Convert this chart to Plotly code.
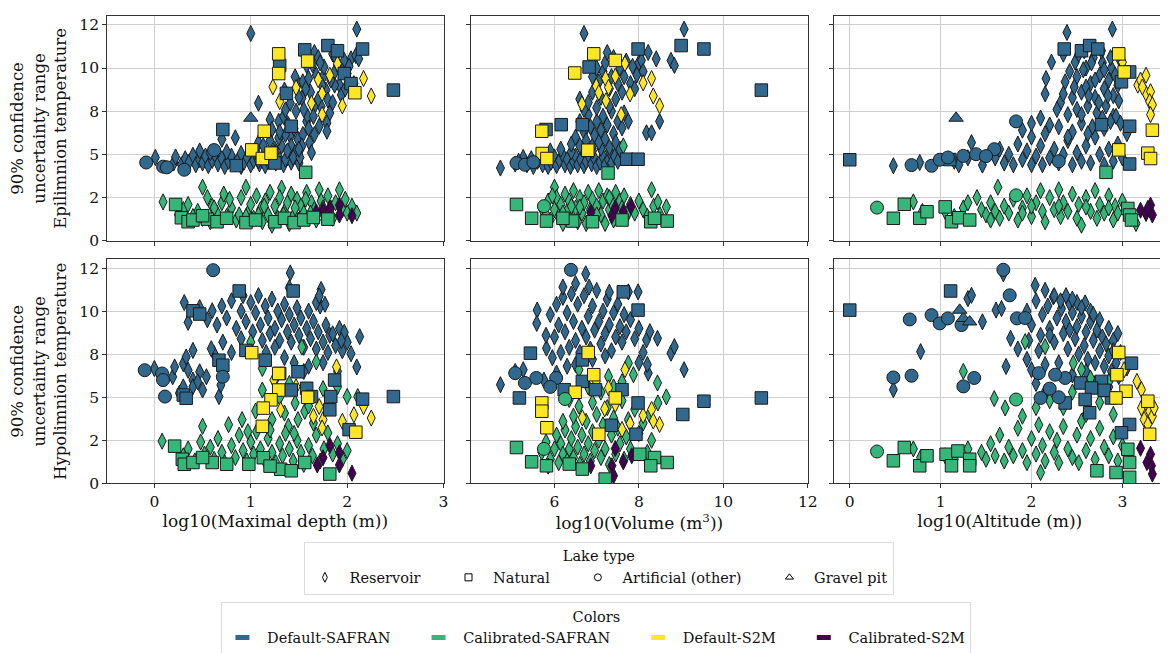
import plotly.graph_objects as go

# ---------------- categories / labels ----------------
config_keys = ["ds", "cs", "dm", "cm"]
config_names = ["Default-SAFRAN", "Calibrated-SAFRAN", "Default-S2M", "Calibrated-S2M"]
config_colors = ["#31688e", "#35b779", "#fde725", "#440154"]
type_keys = ["res", "nat", "art", "gra"]
type_names = ["Reservoir", "Natural", "Artificial (other)", "Gravel pit"]
type_symbols = ["diamond-tall", "square", "circle", "triangle-up"]
type_sizes = [11.5, 12.5, 13, 12.5]

x_titles = ["log10(Maximal depth (m))", "log10(Volume (m<sup>3</sup>))", "log10(Altitude (m))"]
y_titles = ["90% confidence<br>uncertainty range<br>Epilimnion temperature",
            "90% confidence<br>uncertainty range<br>Hypolimnion temperature"]
y_tick_vals = [0, 2.5, 5, 7.5, 10, 12.5]
y_tick_text = ["0", "2", "5", "8", "10", "12"]
x_tick_vals = [[0, 1, 2, 3], [6, 8, 10, 12], [0, 1, 2, 3]]
x_tick_text = [["0", "1", "2", "3"], ["6", "8", "10", "12"], ["0", "1", "2", "3"]]

# ---------------- data: (x, uncertainty range) ----------------
# Panel 1: epilimnion vs log10(max depth)
epi_depth_ds_res = [(0.01,4.82),(0.2,4.5),(0.22,4.85),(0.28,4.4),(0.32,4.75),(0.36,4.55),(0.4,4.95),(0.43,4.4),(0.47,4.7),(0.5,4.5),
    (0.53,4.9),(0.56,4.35),(0.6,4.65),(0.63,4.95),(0.66,4.45),(0.7,4.75),(0.73,4.3),(0.77,4.6),(0.8,4.9),(0.84,4.45),
    (0.87,4.7),(0.9,4.3),(0.93,4.55),(0.96,4.85),(1.0,4.4),(1.03,4.65),(1.06,4.9),(1.09,4.45),(1.12,4.7),(1.15,4.35),
    (1.18,4.6),(1.22,4.85),(1.26,4.5),(1.3,4.7),(1.34,4.4),(1.38,4.8),(1.42,4.55),(1.47,4.9),(1.5,4.5),
    (0.47,5.2),(0.58,5.1),(0.75,5.15),(0.9,5.05),(1.05,5.2),(1.25,5.3),(0.7,5.87),(0.84,5.96),
    (1.08,7.96),(1.2,7.01),(1.08,5.68),(1.22,6.44),(1.29,6.91),(1.34,7.2),(1.36,7.58),(1.39,6.72),(1.41,6.06),(1.42,5.49),
    (1.32,5.49),(1.25,5.1),(1.46,5.1),(1.49,5.87),(1.54,6.15),(1.58,6.91),(1.59,7.2),(1.53,5.49),(1.61,5.68),(1.63,5.1),
    (1.49,9.1),(1.53,8.25),(1.54,9.2),(1.58,10.15),(1.66,10.9),(1.7,10.6),(1.75,9.49),(1.76,10.06),(1.78,8.72),(1.8,8.15),
    (1.82,7.39),(1.79,6.82),(1.79,6.34),(1.85,10.82),(1.87,9.77),(1.92,9.01),(1.94,8.44),(1.97,10.44),(2.0,9.68),(2.04,10.53),
    (2.09,10.72),(2.12,10.53),(2.1,12.25),(1.0,12.0),(1.46,9.49),(1.41,7.96),(1.36,6.15),(1.29,5.96),(1.15,5.1),(1.08,4.63),
    (1.17,4.82),(1.36,4.72),(1.44,4.82),(1.51,4.82),(1.66,6.15),(1.71,6.63),(1.73,7.77),(1.66,7.77),(1.35,8.72),(1.87,9.01),
    (1.13,5.5),(1.3,6.3),(1.45,6.5),(1.55,7.6),(1.62,8.6),(1.68,9.6),(1.72,10.3),(1.9,10.2),(1.5,5.3),(1.2,5.8),
    (1.38,5.2),(1.6,6.5),(1.85,8.0),(1.95,9.8),
    (1.6,9.4),(1.64,10.2),(1.7,8.2),(1.74,9.0),(1.83,9.3),(1.88,10.6),(1.98,8.8),(2.02,10.1),(1.47,7.5),(1.5,8.3),
    (1.57,8.8),(1.65,7.2)]
epi_depth_ds_nat = [(0.71,6.44),(1.30,10.15),(1.37,8.53),(1.42,6.63),(1.56,11.05),(1.80,11.3),(1.90,11.0),(2.16,11.1),
    (2.48,8.72),(1.97,9.68),(2.04,9.1),(0.85,4.35),(1.25,4.5)]
epi_depth_ds_art = [(-0.085,4.53),(0.09,4.29),(0.13,4.25),(0.31,4.11),(0.62,5.25)]
epi_depth_ds_gra = [(1.0,7.1)]
epi_depth_cs_res = [(0.09,2.25),(0.5,3.1),(0.55,2.5),(0.6,2.0),(0.45,1.7),(0.4,1.4),(0.5,1.3),(0.65,1.6),(0.7,2.2),(0.75,1.4),
    (0.8,1.9),(0.85,1.2),(0.9,2.5),(0.95,3.1),(0.97,1.6),(1.0,2.1),(1.03,1.3),(1.06,2.6),(1.1,1.8),(1.12,1.1),
    (1.15,2.3),(1.18,1.5),(1.2,2.8),(1.22,0.9),(1.25,2.0),(1.28,1.3),(1.32,3.05),(1.3,2.5),(1.35,1.7),(1.38,2.2),
    (1.4,1.0),(1.42,2.7),(1.45,1.5),(1.48,2.4),(1.5,1.2),(1.52,2.0),(1.55,1.6),(1.58,2.8),(1.6,1.3),(1.63,2.2),
    (1.66,1.8),(1.68,1.2),(1.71,2.95),(1.73,2.3),(1.76,1.5),(1.8,2.6),(1.83,1.9),(1.85,1.3),(1.88,2.2),(1.92,2.95),
    (1.95,1.8),(2.0,1.6),(2.05,2.0),(2.1,1.6),(0.3,1.8),(0.35,2.1),(0.25,1.5),(0.58,1.1),(0.72,2.7),(0.88,1.5),
    (0.78,2.4),(0.62,1.9),(1.08,1.5),(1.14,2.0),(1.34,1.5),(1.57,2.4),(1.75,1.9),(1.98,2.4),(0.95,1.4),(1.46,1.9),(1.62,1.6)]
epi_depth_cs_nat = [(1.57,3.96),(0.22,2.1),(0.28,1.33),(0.35,1.1),(0.4,1.2),(0.55,1.25),(0.65,1.1),(0.75,1.3),(0.95,1.05),
    (1.05,1.2),(1.25,1.1),(1.35,1.3),(1.45,1.05),(1.55,1.2),(1.65,1.35),(1.8,1.25),(0.5,1.45)]
epi_depth_cs_art = []
epi_depth_cs_gra = []
epi_depth_dm_res = [(1.23,8.91),(1.30,8.06),(1.47,8.86),(1.63,7.96),(1.70,9.33),(1.74,8.53),(1.74,7.30),(1.82,9.58),(1.90,10.25),
    (1.95,7.81),(2.07,9.1),(2.17,9.39),(2.25,8.38)]
epi_depth_dm_nat = [(1.29,10.82),(1.29,9.68),(1.59,10.4),(1.14,6.34),(1.01,5.26),(1.12,4.76),(1.21,5.07),(2.08,8.57)]
epi_depth_cm_res = [(1.68,1.68),(1.75,1.77),(1.82,1.87),(1.92,2.06),(1.92,1.49),(2.05,1.45)]

# Panel 2: epilimnion vs log10(volume)
epi_vol_ds_res = [(4.72,4.21),(5.07,4.44),(5.26,4.82),(5.15,4.6),(5.35,4.4),(5.45,4.75),(5.5,4.3),(5.6,4.6),(5.65,4.9),(5.72,4.4),
    (5.8,4.7),(5.85,4.3),(5.92,4.55),(6.0,4.85),(6.05,4.35),(6.12,4.65),(6.2,4.95),(6.25,4.4),(6.3,4.7),(6.38,4.3),
    (6.45,4.6),(6.5,4.9),(6.55,4.4),(6.62,4.7),(6.7,4.35),(6.75,4.6),(6.82,4.9),(6.88,4.45),(6.95,4.75),(7.0,4.3),
    (7.08,4.55),(7.15,4.85),(7.2,4.4),(7.28,4.7),(7.35,4.5),(7.42,4.9),(7.5,4.6),(5.9,5.2),(6.15,5.3),(6.4,5.15),
    (6.65,5.3),(6.9,5.2),(7.1,5.35),(7.3,5.2),
    (6.4,5.6),(6.5,6.0),(6.6,5.5),(6.7,6.3),(6.75,5.8),(6.85,6.6),(6.9,5.5),(6.95,6.1),(7.0,6.9),(7.05,5.7),
    (7.1,6.4),(7.15,7.2),(7.2,5.9),(7.25,6.7),(7.3,5.4),(7.35,7.5),(7.4,6.2),(7.45,5.7),(7.5,6.9),(7.55,5.3),
    (7.6,6.53),(7.75,6.91),(7.65,7.4),(7.3,7.8),(6.6,6.9),(6.8,7.3),
    (6.8,8.0),(6.9,8.6),(7.0,7.7),(7.05,9.2),(7.1,8.3),(7.15,9.8),(7.2,10.3),(7.3,8.8),(7.35,9.5),(7.4,10.6),
    (7.45,8.2),(7.5,9.1),(7.55,10.0),(7.6,8.6),(7.65,9.5),(7.7,10.4),(7.8,9.1),(7.85,10.1),(7.9,8.8),(7.95,9.6),
    (8.0,10.3),(6.7,12.0),(9.07,12.25),(8.76,10.44),(8.84,10.15),(8.41,10.53),(8.22,10.9),(8.06,10.44),(8.49,6.91),(8.18,6.25),
    (8.3,6.25),(7.0,10.0),(6.9,9.5),(6.6,8.2),(6.7,7.6),(8.1,9.8),(7.25,10.9)]
epi_vol_ds_nat = [(7.98,11.1),(9.0,11.3),(9.54,11.1),(10.9,8.72),(6.16,6.72),(6.66,6.72),(5.8,6.44),(7.71,4.72),(7.98,4.72),(6.82,10.06)]
epi_vol_ds_art = [(5.1,4.5),(5.3,4.4),(5.5,4.55)]
epi_vol_ds_gra = []
epi_vol_cs_res = [(5.7,1.9),(5.8,1.5),(5.85,2.3),(5.9,1.2),(6.0,3.1),(6.0,1.8),(6.05,2.5),(6.1,1.4),(6.15,2.1),(6.2,1.0),
    (6.25,2.7),(6.3,1.7),(6.35,2.3),(6.4,1.3),(6.45,2.9),(6.5,1.9),(6.55,1.1),(6.6,2.5),(6.65,1.6),(6.7,2.2),
    (6.75,1.0),(6.8,2.8),(6.85,1.8),(6.9,2.4),(6.95,1.3),(7.0,2.0),(7.05,2.9),(7.1,1.5),(7.15,2.3),(7.2,1.0),
    (7.25,2.6),(7.3,1.8),(7.35,2.2),(7.4,1.2),(7.45,2.8),(7.5,1.6),(7.55,2.3),(7.6,1.9),(7.65,2.6),(7.7,1.4),
    (7.8,2.1),(7.9,1.6),(8.0,2.3),(8.1,1.8),(8.2,1.4),(8.3,2.95),(8.35,2.0),(8.45,2.25),(8.65,1.96),(8.5,1.5),
    (7.63,5.49),(6.2,1.6),(6.6,1.95),(7.0,1.5),(7.3,2.5),(6.4,2.0),(5.95,2.6),(7.75,1.7)]
epi_vol_cs_nat = [(5.1,2.1),(5.46,1.3),(5.81,1.14),(6.43,1.14),(8.28,1.1),(8.67,1.14),(8.37,1.3),(6.9,1.1),(7.27,3.92),(6.2,1.3),(7.6,1.2)]
epi_vol_cs_art = [(5.75,2.0)]
epi_vol_cs_gra = []
epi_vol_dm_res = [(7.67,10.25),(7.21,9.39),(7.44,9.52),(6.99,8.95),(7.28,8.88),(7.05,8.57),(7.22,8.1),(6.65,7.92),(7.79,8.5),
    (8.1,9.14),(8.3,9.39),(8.34,8.38),(8.49,7.81),(7.58,7.3)]
epi_vol_dm_nat = [(6.93,10.82),(6.48,9.71),(7.44,10.44),(5.7,6.34),(5.71,5.05),(5.82,4.76),(6.79,5.24)]
epi_vol_cm_res = [(6.86,1.64),(7.36,1.45),(7.44,1.9),(7.63,1.68),(7.81,1.98)]

# Panel 3: epilimnion vs log10(altitude)
epi_alt_ds_res = [(0.48,4.34),(0.77,4.53),(1.34,5.68),(1.46,4.38),(1.15,4.6),(1.2,4.4),(1.3,4.8),
    (1.6,4.8),(1.65,5.3),(1.7,4.5),(1.75,5.0),(1.8,4.4),(1.85,5.6),(1.9,4.7),(1.95,5.2),(2.0,4.4),(2.0,6.0),
    (2.05,4.9),(2.1,5.5),(2.12,4.4),(2.15,6.2),(2.2,4.8),(2.25,5.3),(2.3,4.5),(2.3,6.6),(2.35,5.0),(2.4,5.8),
    (2.45,4.4),(2.45,6.3),(2.5,5.1),(2.55,4.6),(2.55,6.8),(2.6,5.5),(2.65,4.5),(2.7,6.0),(2.75,5.0),(2.8,4.4),
    (2.8,6.5),(2.85,5.3),(2.9,4.6),(2.9,7.2),(2.95,5.6),(3.0,4.8),(3.05,6.2),(2.0,6.8),(2.1,7.1),(2.2,6.7),
    (1.9,6.4),(2.4,7.3),
    (2.39,12.06),(2.89,12.25),(2.22,10.34),(2.16,9.39),(2.15,8.5),(2.37,9.2),(2.32,8.0),(2.48,10.34),(2.5,9.5),(2.55,8.6),
    (2.6,10.0),(2.62,7.8),(2.65,9.1),(2.68,10.6),(2.7,8.3),(2.72,7.4),(2.75,9.6),(2.78,10.3),(2.8,8.8),(2.82,7.8),
    (2.85,9.3),(2.88,10.0),(2.9,8.4),(2.93,7.2),(2.95,9.0),(2.6,8.9),(2.5,7.6),(2.58,11.0),(2.45,8.3),
    (2.35,10.8),(2.42,9.8),(2.47,8.9),(2.52,10.8),(2.57,9.9),(2.63,8.4),(2.66,10.3),(2.7,9.3),(2.74,8.0),(2.77,11.0),
    (2.8,9.9),(2.84,8.4),(2.87,10.6),(2.92,9.6),(2.96,8.1),(2.98,10.4),(2.55,7.3),(2.67,6.6),(2.78,7.1),(2.87,6.9),
    (2.98,6.8),(2.4,6.0),(2.62,6.2),(2.35,8.5),(2.28,7.6)]
epi_alt_ds_nat = [(0.0,4.69),(2.36,11.1),(2.55,11.0),(2.64,11.3),(2.73,11.1),(3.08,9.77),(2.99,9.2),(2.77,6.72),(3.08,6.63),(3.08,4.44),(1.1,4.7)]
epi_alt_ds_art = [(0.68,4.38),(0.9,4.34),(0.99,4.69),(1.08,4.82),(1.25,4.91),(1.39,5.01),(1.59,5.3),(1.83,6.91),(1.5,4.9),(2.3,4.6)]
epi_alt_ds_gra = [(1.17,7.1)]
epi_alt_cs_res = [(0.7,2.25),(0.8,1.7),(1.05,1.7),(1.15,1.4),(1.25,1.9),(1.3,2.2),(1.45,1.8),(1.5,1.5),(1.55,2.2),(1.6,1.7),
    (1.63,3.1),(1.65,1.3),(1.7,2.0),(1.75,1.6),(1.8,2.4),(1.85,1.2),(1.9,1.9),(1.95,2.6),(2.0,1.4),(2.05,2.2),
    (2.1,2.9),(2.12,1.7),(2.15,1.1),(2.2,2.5),(2.25,1.8),(2.3,2.95),(2.32,1.4),(2.35,2.2),(2.4,1.7),(2.45,2.7),
    (2.5,1.3),(2.52,2.1),(2.55,0.9),(2.6,2.5),(2.65,1.7),(2.7,2.9),(2.72,1.3),(2.75,2.1),(2.8,1.6),(2.85,2.6),
    (2.9,1.2),(2.92,2.0),(2.95,1.6),(3.0,2.3),(3.15,1.0),(1.4,2.5),(1.9,1.6),(2.3,2.0),(2.6,1.95),(2.85,1.9),
    (2.0,2.0),(1.55,1.2)]
epi_alt_cs_nat = [(0.48,1.3),(0.6,2.11),(0.77,1.3),(0.85,1.68),(1.05,1.96),(1.12,1.1),(1.2,1.33),(1.32,1.2),(2.82,3.96),
    (3.06,1.87),(3.08,1.49),(3.1,1.2)]
epi_alt_cs_art = [(0.3,1.92),(1.83,2.63)]
epi_alt_cs_gra = []
epi_alt_dm_res = [(3.0,10.34),(3.17,9.01),(3.2,9.3),(3.26,9.58),(3.26,8.53),(3.31,8.63),(3.3,8.06),(3.33,7.87),(3.31,7.3),(3.22,8.9)]
epi_alt_dm_nat = [(2.96,10.82),(3.02,9.77),(3.33,6.4),(2.96,5.26),(3.28,5.07),(3.31,4.76)]
epi_alt_cm_res = [(3.2,1.77),(3.26,1.58),(3.31,2.06),(3.33,1.49),(3.28,1.87)]

# Panel 4: hypolimnion vs log10(max depth)
hyp_depth_ds_res = [(0.0,6.67),(0.19,6.19),(0.21,6.76),(0.3,6.95),(0.33,7.34),(0.4,7.72),(0.35,6.57),(0.4,6.0),(0.47,6.48),(0.54,6.19),
    (0.5,5.42),(0.4,5.61),(0.26,5.23),(0.67,5.04),(0.69,5.71),(0.62,7.53),(0.59,7.82),(0.71,8.2),(0.3,5.6),(0.45,5.9),
    (0.31,10.5),(0.35,9.35),(0.47,10.21),(0.6,10.02),(0.55,9.5),(0.65,9.2),(0.7,10.3),(0.75,9.6),(0.8,10.6),(0.85,9.0),
    (0.9,10.0),(0.92,10.9),(0.95,9.4),(1.0,10.5),(1.02,8.8),(1.05,9.9),(1.08,10.9),(1.1,9.2),(1.12,8.3),(1.15,10.3),
    (1.18,9.6),(1.2,8.7),(1.22,10.7),(1.25,9.0),(1.28,10.0),(1.3,8.3),(1.32,9.5),(1.35,10.4),(1.38,8.8),(1.4,9.8),
    (1.42,8.2),(1.45,9.2),(1.48,10.2),(1.5,8.6),(1.52,9.6),(1.55,7.9),(1.58,9.0),(1.6,10.0),(1.62,8.4),(1.65,9.4),
    (1.68,7.8),(1.7,8.8),(1.72,10.3),(1.75,8.2),(1.78,9.2),(1.8,7.6),(1.82,8.6),(1.88,8.0),(1.92,9.0),(1.95,7.7),
    (2.0,8.2),(2.13,8.52),(2.1,6.76),(2.04,7.53),(1.97,8.77),(1.94,8.29),(1.85,8.68),(1.68,10.5),(1.73,11.26),(1.71,10.88),
    (1.77,10.4),(1.41,12.22),(1.4,11.36),(1.16,7.6),(1.25,7.9),(1.35,7.3),(1.45,7.0),(1.6,6.8),(1.75,7.0),(1.9,6.5),
    (1.55,6.5),(0.9,8.4),(0.8,7.6)]
hyp_depth_ds_nat = [(1.44,11.17),(0.4,10.02),(0.47,9.83),(0.3,5.13),(0.33,4.94),(0.67,7.15),(0.71,6.86),(0.95,7.72),(0.88,11.17),
    (1.15,7.15),(1.49,6.48),(1.3,6.38),(1.58,5.52),(1.63,5.04),(1.83,5.04),(1.87,6.0),(1.82,4.27),(2.02,3.12),(2.16,4.89),
    (2.48,5.04),(1.42,5.42)]
hyp_depth_ds_art = [(0.61,12.38),(-0.1,6.57),(0.08,6.38),(0.09,6.0),(0.11,5.04),(0.71,6.19)]
hyp_depth_ds_gra = []
hyp_depth_cs_res = [(0.08,2.45),(0.5,3.31),(0.77,3.41),(0.91,3.7),(1.12,5.42),(1.12,6.67),(1.0,8.2),(1.53,7.91),(1.68,7.05),(1.9,5.61),
    (2.0,5.04),(2.11,5.04),(1.46,4.66),(1.35,4.08),(1.22,3.7),(1.49,3.7),(1.39,3.31),(1.56,4.18),(1.8,2.93),
    (0.3,1.6),(0.35,2.0),(0.42,1.3),(0.48,2.4),(0.52,1.7),(0.58,2.1),(0.62,1.4),(0.66,2.6),(0.7,1.8),(0.73,1.2),
    (0.8,2.2),(0.84,1.5),(0.88,2.8),(0.92,1.9),(0.96,1.3),(1.0,2.4),(1.03,1.7),(1.06,3.0),(1.1,2.0),(1.14,1.4),
    (1.18,2.6),(1.22,1.8),(1.26,1.2),(1.3,2.3),(1.33,1.6),(1.36,2.9),(1.4,2.0),(1.44,1.3),(1.48,2.5),(1.52,1.8),
    (1.55,1.1),(1.6,2.2),(1.64,1.6),(1.68,2.8),(1.72,1.3),(1.76,2.0),(1.85,1.7),(1.9,2.3),(1.95,1.4),(2.0,1.9),
    (1.2,3.1),(1.05,4.2),(1.3,5.0),(1.4,5.8),(1.6,4.5),(1.75,5.5),(1.25,6.0),(1.65,3.5),(0.97,3.0),(1.45,2.9)]
hyp_depth_cs_nat = [(0.21,2.16),(0.29,1.4),(0.31,1.11),(0.4,1.21),(0.6,1.21),(0.75,1.11),(0.98,1.11),(1.13,1.49),(1.31,0.82),
    (1.42,0.73),(1.56,1.21),(1.82,0.54),(0.5,1.5),(1.2,1.0)]
hyp_depth_cs_art = []
hyp_depth_cs_gra = []
hyp_depth_dm_res = [(1.24,6.0),(1.47,5.61),(1.31,4.27),(1.71,4.46),(1.81,4.66),(1.89,6.76),(1.65,3.89),(1.75,3.7),(1.74,3.22),
    (1.95,3.6),(2.07,3.98),(2.17,4.46),(2.25,3.79)]
hyp_depth_dm_nat = [(1.01,7.59),(1.29,6.38),(1.29,5.42),(1.21,4.85),(1.13,4.37),(1.12,3.31),(1.59,5.0),(2.09,2.97)]
hyp_depth_cm_res = [(1.82,2.2),(1.75,1.49),(1.69,1.07),(1.92,1.78),(1.92,1.07),(2.05,0.59)]

# Panel 5: hypolimnion vs log10(volume)
hyp_vol_ds_res = [(6.74,12.17),(4.72,5.73),(5.07,6.5),(5.26,6.6),(5.59,10.06),(5.58,9.29),(5.81,7.85),(8.18,8.33),(8.26,8.81),(8.44,8.42),
    (8.76,7.56),(8.84,7.94),(9.07,6.6),(8.22,6.4),(7.75,11.12),(7.98,11.12),(6.82,11.4),
    (5.9,9.8),(6.0,8.5),(6.05,10.4),(6.1,9.2),(6.15,7.6),(6.2,10.8),(6.25,8.8),(6.3,9.9),(6.35,7.9),(6.4,11.0),
    (6.45,9.4),(6.5,8.3),(6.55,10.4),(6.6,7.6),(6.65,9.0),(6.7,10.9),(6.75,8.5),(6.8,9.7),(6.85,7.8),(6.9,10.3),
    (6.95,8.9),(7.0,11.2),(7.05,9.4),(7.1,8.1),(7.15,10.0),(7.2,8.7),(7.25,10.7),(7.3,9.2),(7.35,7.7),(7.4,9.9),
    (7.45,8.5),(7.5,10.4),(7.55,9.1),(7.6,8.2),(7.65,9.8),(7.7,8.8),(7.8,9.5),(7.9,8.4),(8.0,9.0),(8.1,7.6),
    (5.8,8.6),(5.95,7.3),(6.3,6.8),(6.05,6.4),(5.75,6.0),(6.5,6.9),(6.9,7.2),(7.2,7.4),(8.0,7.0),(8.2,6.9),
    (6.2,11.4),(6.5,11.6),(7.3,11.1)]
hyp_vol_ds_nat = [(7.63,11.12),(7.98,10.06),(5.43,7.56),(5.17,4.96),(6.66,5.92),(6.97,5.44),(7.6,5.44),(7.98,4.67),(7.35,3.37),
    (7.93,2.85),(9.04,4.0),(9.54,4.77),(10.9,4.96),(6.23,5.44),(6.66,7.17)]
hyp_vol_ds_art = [(6.39,12.4),(5.07,6.4),(5.3,5.83),(5.57,6.12),(6.04,6.12),(5.9,5.6)]
hyp_vol_ds_gra = []
hyp_vol_cs_res = [(7.87,6.31),(8.44,5.83),(8.65,5.02),(8.45,4.67),(7.75,6.98),(6.58,6.6),(7.28,6.21),(6.35,4.87),(6.58,4.48),
    (5.7,1.8),(5.8,2.4),(5.9,1.4),(6.0,2.0),(6.05,2.8),(6.1,1.2),(6.15,2.3),(6.2,1.7),(6.25,3.1),(6.3,1.3),
    (6.35,2.0),(6.4,2.6),(6.45,1.5),(6.5,3.3),(6.55,2.1),(6.6,1.1),(6.65,2.8),(6.7,1.7),(6.75,3.6),(6.8,2.3),
    (6.85,1.3),(6.9,3.0),(6.95,1.9),(7.0,4.0),(7.05,2.5),(7.1,1.5),(7.15,3.4),(7.2,2.0),(7.25,4.4),(7.3,1.1),
    (7.35,2.8),(7.4,3.8),(7.45,1.7),(7.5,3.2),(7.55,2.3),(7.6,4.8),(7.65,1.4),(7.7,2.7),(7.75,3.7),(7.8,2.0),
    (7.9,4.3),(8.0,2.9),(8.1,3.5),(8.2,1.8),(8.3,2.5),(6.9,4.7),(7.1,5.3),(7.4,5.6),(6.8,5.6),(7.6,5.9),
    (8.25,4.0),(6.2,3.6),(6.45,3.9),(5.85,1.0)]
hyp_vol_cs_nat = [(5.1,2.08),(5.46,1.25),(5.81,1.02),(6.35,1.12),(6.66,0.83),(7.2,0.25),(8.02,1.69),(8.37,1.5),(8.28,1.02),(8.67,1.21)]
hyp_vol_cs_art = [(5.75,2.0),(6.25,4.9)]
hyp_vol_cs_gra = []
hyp_vol_dm_res = [(7.67,6.6),(6.99,5.92),(7.28,5.54),(7.44,4.58),(7.19,4.33),(6.66,3.81),(7.79,3.48),(7.6,3.13),(8.1,3.94),
    (8.3,4.29),(8.49,3.42),(8.34,3.62)]
hyp_vol_dm_nat = [(6.8,7.6),(5.7,4.67),(5.7,4.19),(5.82,3.23),(6.49,5.29),(6.93,6.31),(7.05,2.85),(7.44,4.96)]
hyp_vol_cm_res = [(6.86,1.02),(7.36,1.02),(7.4,0.44),(7.44,2.02),(7.63,1.25),(7.83,1.6)]

# Panel 6: hypolimnion vs log10(altitude)
hyp_alt_ds_res = [(0.48,5.44),(0.78,7.65),(1.3,10.73),(1.34,10.92),(1.46,9.38),(1.61,10.06),(1.67,10.15),(1.69,12.17),(1.77,8.42),(1.72,6.79),
    (2.04,11.5),(2.15,11.21),(2.24,10.83),(2.33,10.15),(2.42,10.44),(2.59,10.48),
    (1.95,10.0),(2.0,9.2),(2.05,10.6),(2.1,8.6),(2.12,9.8),(2.18,10.3),(2.2,9.0),(2.25,8.2),(2.28,9.6),(2.32,10.6),
    (2.35,8.7),(2.38,9.4),(2.4,7.8),(2.45,9.9),(2.48,8.4),(2.5,9.1),(2.52,7.5),(2.55,9.7),(2.58,8.0),(2.6,8.8),
    (2.62,7.2),(2.65,9.4),(2.68,8.3),(2.7,7.0),(2.72,8.9),(2.75,7.7),(2.78,8.5),(2.8,6.8),(2.82,8.1),(2.85,7.4),
    (2.88,6.5),(2.9,8.3),(2.93,7.0),(2.96,6.2),(2.98,7.6),(3.05,6.7),(1.95,7.2),(2.0,6.6),(2.05,5.8),(2.15,6.9),
    (2.3,7.0),(2.45,6.3),(2.6,6.5),(2.7,5.8),(2.85,5.6),(1.85,7.8),(1.97,8.3),(2.08,7.7),(2.5,10.5),(2.15,5.3),
    (2.25,10.9),(2.38,10.9),(2.45,10.7),(2.55,10.2),(2.65,10.0),(2.75,9.5),(2.85,9.0),(2.95,8.7),(2.2,8.6),(2.42,8.9),
    (2.68,9.8),(2.9,7.7)]
hyp_alt_ds_nat = [(0.0,10.06),(1.11,11.17),(2.54,5.83),(2.77,5.92),(2.66,5.54),(2.64,4.1),(2.37,4.67),(2.59,4.87),(2.88,4.96),
    (3.1,6.98),(3.08,3.42),(2.99,2.94),(2.8,5.4)]
hyp_alt_ds_art = [(0.48,6.15),(0.68,6.25),(0.66,9.52),(0.9,9.77),(0.99,9.29),(1.08,9.58),(1.23,9.19),(1.25,5.63),(1.37,6.12),
    (1.69,12.4),(1.76,10.92),(1.84,9.58),(2.1,4.96),(2.37,6.12),(2.26,6.31),(2.08,6.4),(2.3,5.0),(1.93,9.6),(2.2,5.5)]
hyp_alt_ds_gra = [(1.25,9.58),(1.32,9.38),(1.21,10.06)]
hyp_alt_cs_res = [(1.25,6.5),(1.93,8.23),(2.15,7.94),(1.59,4.92),(1.71,4.38),(2.46,6.98),(2.1,0.63),
    (0.7,2.0),(0.78,1.5),(1.05,1.6),(1.15,1.4),(1.3,2.0),(1.45,1.8),(1.5,1.4),(1.55,2.3),(1.6,1.6),(1.65,2.8),
    (1.7,1.3),(1.75,2.1),(1.8,1.6),(1.85,3.2),(1.9,1.9),(1.95,1.2),(2.0,2.6),(2.05,1.7),(2.08,3.4),(2.12,2.2),
    (2.15,1.3),(2.2,3.0),(2.25,1.8),(2.28,2.5),(2.3,1.2),(2.35,3.3),(2.4,2.0),(2.45,1.5),(2.5,2.8),(2.52,1.2),
    (2.55,3.6),(2.6,1.9),(2.65,2.6),(2.7,1.4),(2.75,3.2),(2.8,2.1),(2.85,1.6),(2.9,2.7),(2.95,1.3),(3.0,2.2),
    (2.35,4.4),(2.6,4.0),(2.45,5.3),(2.65,6.1),(2.75,4.7),(2.9,4.0),(2.2,4.8),(2.55,6.6),(2.85,5.9),(1.9,3.9),
    (2.05,4.4),(3.1,1.4)]
hyp_alt_cs_nat = [(0.48,1.31),(0.6,2.08),(0.77,1.02),(0.85,1.6),(1.06,1.69),(1.12,1.02),(1.19,1.88),(1.32,1.4),(1.32,1.02),
    (2.72,0.73),(2.93,0.63),(3.06,1.98),(3.08,1.21),(3.08,0.35)]
hyp_alt_cs_art = [(0.3,1.85),(1.83,4.87)]
hyp_alt_cs_gra = []
hyp_alt_dm_res = [(3.02,6.6),(3.16,5.92),(3.21,5.44),(3.21,4.38),(3.26,4.67),(3.3,4.19),(3.33,3.9),(3.24,3.71),(3.28,3.42),(3.35,4.38)]
hyp_alt_dm_nat = [(2.96,7.6),(2.94,6.31),(3.04,5.35),(2.93,4.96),(3.28,4.77),(3.3,2.85)]
hyp_alt_cm_res = [(3.2,2.04),(3.27,1.21),(3.31,1.69),(3.33,0.54),(3.32,1.02)]

# ---------------- assemble (panel -> config -> lake type) ----------------
panels = [
    {"ds": [epi_depth_ds_res, epi_depth_ds_nat, epi_depth_ds_art, epi_depth_ds_gra],
     "cs": [epi_depth_cs_res, epi_depth_cs_nat, epi_depth_cs_art, epi_depth_cs_gra],
     "dm": [epi_depth_dm_res, epi_depth_dm_nat, [], []],
     "cm": [epi_depth_cm_res, [], [], []]},
    {"ds": [epi_vol_ds_res, epi_vol_ds_nat, epi_vol_ds_art, epi_vol_ds_gra],
     "cs": [epi_vol_cs_res, epi_vol_cs_nat, epi_vol_cs_art, epi_vol_cs_gra],
     "dm": [epi_vol_dm_res, epi_vol_dm_nat, [], []],
     "cm": [epi_vol_cm_res, [], [], []]},
    {"ds": [epi_alt_ds_res, epi_alt_ds_nat, epi_alt_ds_art, epi_alt_ds_gra],
     "cs": [epi_alt_cs_res, epi_alt_cs_nat, epi_alt_cs_art, epi_alt_cs_gra],
     "dm": [epi_alt_dm_res, epi_alt_dm_nat, [], []],
     "cm": [epi_alt_cm_res, [], [], []]},
    {"ds": [hyp_depth_ds_res, hyp_depth_ds_nat, hyp_depth_ds_art, hyp_depth_ds_gra],
     "cs": [hyp_depth_cs_res, hyp_depth_cs_nat, hyp_depth_cs_art, hyp_depth_cs_gra],
     "dm": [hyp_depth_dm_res, hyp_depth_dm_nat, [], []],
     "cm": [hyp_depth_cm_res, [], [], []]},
    {"ds": [hyp_vol_ds_res, hyp_vol_ds_nat, hyp_vol_ds_art, hyp_vol_ds_gra],
     "cs": [hyp_vol_cs_res, hyp_vol_cs_nat, hyp_vol_cs_art, hyp_vol_cs_gra],
     "dm": [hyp_vol_dm_res, hyp_vol_dm_nat, [], []],
     "cm": [hyp_vol_cm_res, [], [], []]},
    {"ds": [hyp_alt_ds_res, hyp_alt_ds_nat, hyp_alt_ds_art, hyp_alt_ds_gra],
     "cs": [hyp_alt_cs_res, hyp_alt_cs_nat, hyp_alt_cs_art, hyp_alt_cs_gra],
     "dm": [hyp_alt_dm_res, hyp_alt_dm_nat, [], []],
     "cm": [hyp_alt_cm_res, [], [], []]},
]

FONT = "DejaVu Serif"
TXT = "#111111"
W, H = 1168, 653
col_dom = [[100 / W, 439.3 / W], [467.3 / W, 806.7 / W], [832.7 / W, 1.0]]
row_dom = [[1 - 236 / H, 1 - 8.3 / H], [1 - 482 / H, 1 - 255 / H]]
x_ranges = [[-0.49, 3.0], [4.03, 12.0], [-0.178, 3.48]]
y_range = [0, 13.0]

fig = go.Figure()

for p, pdata in enumerate(panels):
    r, c = divmod(p, 3)
    ax = "" if p == 0 else str(p + 1)
    for t_i, t_key in enumerate(type_keys):
        for c_i, c_key in enumerate(config_keys):
            pts = pdata[c_key][t_i]
            if not pts:
                continue
            fig.add_trace(go.Scatter(
                x=[pt[0] for pt in pts], y=[pt[1] for pt in pts],
                mode="markers", xaxis="x" + ax, yaxis="y" + ax,
                showlegend=False, hoverinfo="skip",
                marker=dict(symbol=type_symbols[t_i], size=type_sizes[t_i],
                            color=config_colors[c_i],
                            line=dict(color="#1a1a1a", width=1)),
            ))

    common = dict(showline=True, linecolor="#333333", linewidth=1,
                  ticks="outside", ticklen=4, tickcolor="#333333",
                  showgrid=True, gridcolor="#cfcfcf", gridwidth=1, zeroline=False,
                  tickfont=dict(family=FONT, size=15.5, color=TXT))
    xa = dict(common, domain=col_dom[c], range=x_ranges[c], anchor="y" + ax,
              tickvals=x_tick_vals[c], ticktext=x_tick_text[c], mirror=True,
              showticklabels=(r == 1))
    if r == 1:
        xa["title"] = dict(text=x_titles[c], font=dict(family=FONT, size=17, color=TXT), standoff=4)
    ya = dict(common, domain=row_dom[r], range=y_range, anchor="x" + ax,
              tickvals=y_tick_vals, ticktext=y_tick_text, mirror=(c < 2),
              showticklabels=(c == 0))
    if c == 0:
        ya["title"] = dict(text=y_titles[r], font=dict(family=FONT, size=16.5, color=TXT), standoff=8)
    fig.layout["xaxis" + ax] = xa
    fig.layout["yaxis" + ax] = ya

# legend-only traces (names padded with no-break spaces to reproduce the wide legend spacing)
NB = "\u00a0"
for t_i, name in enumerate(type_names):
    tail = NB * 5 if t_i < len(type_names) - 1 else ""
    fig.add_trace(go.Scatter(
        x=[None], y=[None], mode="markers", name=NB + name + tail, legend="legend",
        marker=dict(symbol=type_symbols[t_i] + "-open", size=7, color="black",
                    line=dict(color="black", width=1))))
for c_i, name in enumerate(config_names):
    tail = NB * 5 if c_i < len(config_names) - 1 else ""
    fig.add_trace(go.Scatter(
        x=[None], y=[None], mode="markers", name=NB + name + tail, legend="legend2",
        marker=dict(symbol="line-ew", size=10, color=config_colors[c_i],
                    line=dict(color=config_colors[c_i], width=5))))

legend_common = dict(orientation="h", xanchor="center", yanchor="top",
                     bgcolor="white", bordercolor="#dddddd", borderwidth=1,
                     font=dict(family=FONT, size=14.5, color=TXT),
                     itemclick=False, itemdoubleclick=False)
fig.update_layout(
    width=W, height=H, margin=dict(l=0, r=0, t=0, b=0),
    paper_bgcolor="white", plot_bgcolor="white",
    font=dict(family=FONT, color=TXT),
    legend=dict(legend_common, x=596 / W, y=1 - 541 / H,
                title=dict(text="Lake type", side="top center",
                           font=dict(family=FONT, size=14.5, color=TXT))),
    legend2=dict(legend_common, x=593.5 / W, y=1 - 602 / H,
                 title=dict(text="Colors", side="top center",
                            font=dict(family=FONT, size=14.5, color=TXT))),
)

fig.write_html("out.html")
